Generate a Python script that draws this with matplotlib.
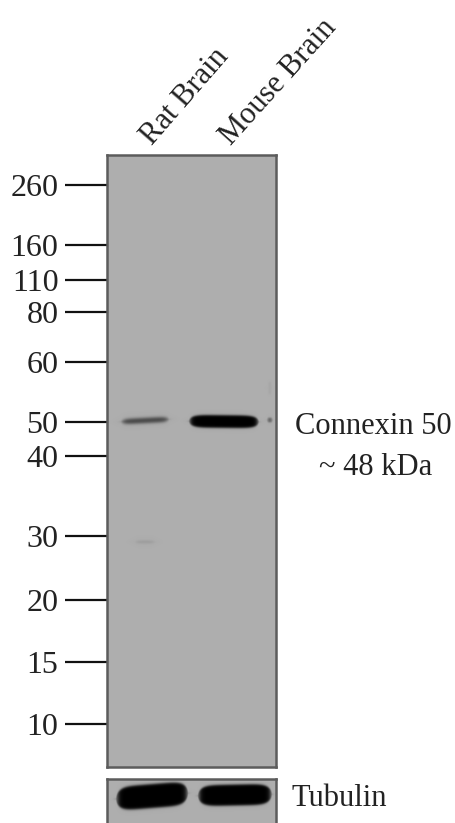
import numpy as np
import matplotlib
matplotlib.use("Agg")
import matplotlib.pyplot as plt

plt.rcParams['font.family'] = ['Liberation Serif', 'DejaVu Serif']

W, H = 455, 823

# ladder, y is the image row of each marker
ladder_labels = ['260', '160', '110', '80', '60', '50', '40', '30', '20', '15', '10']
ladder_rows = [185, 245, 280, 312, 362, 422, 456, 536, 600, 662, 724]

lane_labels = ['Rat Brain', 'Mouse Brain']

# bands : x centre, row, half width, half height, darkness, tilt, blur
gel_bands = [
    (145, 420.5, 23, 2.6, 0.60, -0.05, 1.8),
    (224, 421.5, 34, 6.3, 1.00, 0.01, 1.3),
    (270, 420, 1.8, 2.2, 0.50, 0, 1.0),
    (145, 542, 9, 1.0, 0.13, 0, 1.8),
    (270, 388, 0.8, 6, 0.06, 0, 1.0),
]
tubulin_bands = [
    (152, 796, 35, 12.0, 1.00, -0.08, 1.5),
    (235, 795, 36, 10.5, 1.00, -0.02, 1.4),
]

GEL_GREY = 0.68
BORDER = '#5c5c5c'


def box(left, top, right, bottom):
    return [left / W, 1 - bottom / H, (right - left) / W, (bottom - top) / H]


def render(ax, bands, left, top, right, bottom):
    # 3 samples per pixel, keeps the band edges soft
    xs = np.linspace(left, right, (right - left) * 3)
    ys = np.linspace(top, bottom, (bottom - top) * 3)
    x, y = np.meshgrid(xs, ys)
    img = np.full(x.shape, GEL_GREY)
    for cx, cy, hw, hh, dark, tilt, blur in bands:
        row = cy + tilt * (x - cx)
        # ends of the band get thinner
        taper = np.sqrt(np.clip(1 - ((x - cx) / (hw + 1)) ** 6, 0, 1))
        across = 1 / (1 + np.exp((np.abs(y - row) - hh * taper) / (blur * 0.5)))
        along = 1 / (1 + np.exp((np.abs(x - cx) - hw) / blur))
        img = img * (1 - dark * across * along)
    ax.imshow(img, cmap='gray', vmin=0, vmax=1, extent=(left, right, bottom, top),
              aspect='auto', interpolation='bilinear')
    ax.set_xlim(left, right)
    ax.set_ylim(bottom, top)
    ax.set_xticks([])
    for s in ax.spines.values():
        s.set_color(BORDER)
        s.set_linewidth(1.8)


fig = plt.figure(figsize=(W / 100, H / 100), dpi=100)

ax = fig.add_axes(box(107, 155, 276, 767))
render(ax, gel_bands, 107, 155, 276, 767)
ax.set_yticks(ladder_rows)
ax.set_yticklabels(ladder_labels, fontsize=23)
ax.tick_params(axis='y', length=30, width=1.6, color='#111111', pad=5, labelcolor='#222222')

ax2 = fig.add_axes(box(107, 779, 276, 823))
render(ax2, tubulin_bands, 107, 779, 276, 823)
ax2.set_yticks([])
ax2.spines['bottom'].set_visible(False)

text_kw = dict(fontsize=22, color='#222222')
fig.text(157 / W, 1 - 151 / H, lane_labels[0], rotation=49, rotation_mode='anchor',
         ha='left', va='bottom', **text_kw)
fig.text(236 / W, 1 - 151 / H, lane_labels[1], rotation=48, rotation_mode='anchor',
         ha='left', va='bottom', **text_kw)
fig.text(373 / W, 1 - 426 / H, 'Connexin 50', ha='center', va='center', **text_kw)
fig.text(376 / W, 1 - 468 / H, '~ 48 kDa', ha='center', va='center', **text_kw)
fig.text(291 / W, 1 - 799 / H, 'Tubulin', ha='left', va='center', **text_kw)

fig.savefig('out.png', dpi=100)
